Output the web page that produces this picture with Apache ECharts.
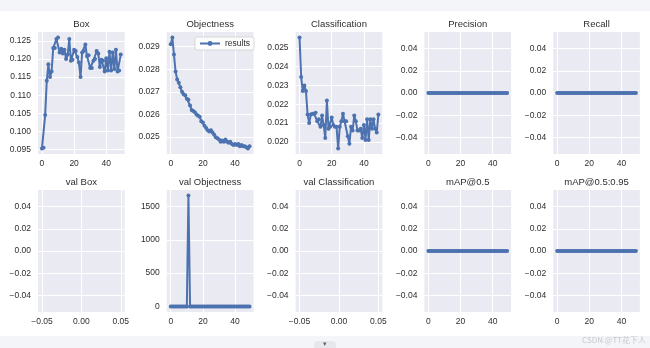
<!DOCTYPE html>
<html><head><meta charset="utf-8">
<script src="https://cdn.jsdelivr.net/npm/echarts@6/dist/echarts.min.js"></script>
<style>html,body{margin:0;padding:0;background:#f4f5f9;}#c{width:650px;height:348px;}</style>
</head><body><div id="c"></div><script>
// ---- data ----
const titles = ['Box','Objectness','Classification','Precision','Recall','val Box','val Objectness','val Classification','mAP@0.5','mAP@0.5:0.95'];
const epochs = [0,1,2,3,4,5,6,7,8,9,10,11,12,13,14,15,16,17,18,19,20,21,22,23,24,25,26,27,28,29,30,31,32,33,34,35,36,37,38,39,40,41,42,43,44,45,46,47,48,49];
const boxLoss = [0.0953,0.0955,0.1045,0.1140,0.1185,0.1150,0.1165,0.1230,0.1230,0.1255,0.1259,0.1218,0.1228,0.1215,0.1225,0.1200,0.1212,0.1255,0.1195,0.1198,0.1225,0.1222,0.1205,0.1190,0.1150,0.1218,0.1222,0.1240,0.1208,0.1210,0.1175,0.1175,0.1195,0.1200,0.1222,0.1215,0.1178,0.1198,0.1195,0.1165,0.1202,0.1168,0.1220,0.1168,0.1218,0.1172,0.1225,0.1165,0.1168,0.1212];
const objLoss = [0.02910,0.02940,0.02865,0.02790,0.02755,0.02740,0.02720,0.02700,0.02690,0.02685,0.02670,0.02665,0.02640,0.02620,0.02615,0.02610,0.02600,0.02595,0.02590,0.02570,0.02565,0.02550,0.02540,0.02530,0.02525,0.02530,0.02520,0.02510,0.02500,0.02495,0.02490,0.02480,0.02485,0.02480,0.02490,0.02480,0.02475,0.02480,0.02470,0.02465,0.02470,0.02465,0.02470,0.02460,0.02465,0.02460,0.02460,0.02455,0.02450,0.02460];
const clsLoss = [0.02555,0.02345,0.02270,0.02300,0.02270,0.02145,0.02100,0.02145,0.02150,0.02150,0.02155,0.02110,0.02120,0.02080,0.02140,0.02090,0.02020,0.02220,0.02070,0.02080,0.02130,0.02090,0.02080,0.02080,0.01965,0.02080,0.02110,0.02150,0.02110,0.02110,0.02030,0.01990,0.02080,0.02060,0.02140,0.02110,0.02060,0.02060,0.02070,0.02020,0.02090,0.02010,0.02120,0.02010,0.02120,0.02070,0.02120,0.02070,0.02050,0.02145];
const precision = [0,0,0,0,0,0,0,0,0,0,0,0,0,0,0,0,0,0,0,0,0,0,0,0,0,0,0,0,0,0,0,0,0,0,0,0,0,0,0,0,0,0,0,0,0,0,0,0,0,0];
const recall = [0,0,0,0,0,0,0,0,0,0,0,0,0,0,0,0,0,0,0,0,0,0,0,0,0,0,0,0,0,0,0,0,0,0,0,0,0,0,0,0,0,0,0,0,0,0,0,0,0,0];
const valBox = [];
const valObj = [0,0,0,0,0,0,0,0,0,0,0,1664,0,0,0,0,0,0,0,0,0,0,0,0,0,0,0,0,0,0,0,0,0,0,0,0,0,0,0,0,0,0,0,0,0,0,0,0,0,0];
const valCls = [];
const map05 = [0,0,0,0,0,0,0,0,0,0,0,0,0,0,0,0,0,0,0,0,0,0,0,0,0,0,0,0,0,0,0,0,0,0,0,0,0,0,0,0,0,0,0,0,0,0,0,0,0,0];
const map0595 = [0,0,0,0,0,0,0,0,0,0,0,0,0,0,0,0,0,0,0,0,0,0,0,0,0,0,0,0,0,0,0,0,0,0,0,0,0,0,0,0,0,0,0,0,0,0,0,0,0,0];
// tick labels
const epochTicks = [0,20,40];
const emptyTicks = [-0.05,0,0.05];
const boxTicks = [0.095,0.100,0.105,0.110,0.115,0.120,0.125];
const objTicks = [0.025,0.026,0.027,0.028,0.029];
const clsTicks = [0.020,0.021,0.022,0.023,0.024,0.025];
const zeroTicks = [-0.04,-0.02,0,0.02,0.04];
const valObjTicks = [0,500,1000,1500];

// ---- layout / config ----
const FONT = 'Liberation Sans, Arial, sans-serif';
const TXT = '#2e2e2e';
const BLUE = '#4c72b0';
const colLeft = [38, 166.8, 295.6, 424.4, 553.2];
const W = 86.7, H = 122;
const rowTop = [32, 190];

function pad(arr){ const mn=Math.min(...arr), mx=Math.max(...arr); const m=(mx-mn)*0.05; return [mn-m, mx+m]; }

const panels = [
  {y: boxLoss, yr: pad(boxLoss), yt: boxTicks, yd: 3},
  {y: objLoss, yr: pad(objLoss), yt: objTicks, yd: 3},
  {y: clsLoss, yr: pad(clsLoss), yt: clsTicks, yd: 3},
  {y: precision, yr: [-0.055,0.055], yt: zeroTicks, yd: 2},
  {y: recall, yr: [-0.055,0.055], yt: zeroTicks, yd: 2},
  {y: valBox, yr: [-0.055,0.055], yt: zeroTicks, yd: 2, empty: true},
  {y: valObj, yr: pad(valObj), yt: valObjTicks, yd: 0},
  {y: valCls, yr: [-0.055,0.055], yt: zeroTicks, yd: 2, empty: true},
  {y: map05, yr: [-0.055,0.055], yt: zeroTicks, yd: 2},
  {y: map0595, yr: [-0.055,0.055], yt: zeroTicks, yd: 2}
];

const fmt = d => v => v.toFixed(d).replace('-', '\u2212');

const grid = [], xAxis = [], yAxis = [], series = [], graphic = [];
panels.forEach((p, i) => {
  const r = Math.floor(i/5), c = i%5;
  grid.push({left: colLeft[c], top: rowTop[r], width: W, height: H, show: true, backgroundColor: '#eaeaf2', borderWidth: 0, containLabel: false});
  const xr = p.empty ? [-0.055,0.055] : pad(epochs);
  const xt = p.empty ? emptyTicks : epochTicks;
  const xd = p.empty ? 2 : 0;
  xAxis.push({type: 'value', gridIndex: i, min: xr[0], max: xr[1],
    axisLine: {show: false}, axisTick: {show: false, customValues: xt},
    axisLabel: {customValues: xt, formatter: fmt(xd), color: TXT, fontSize: 8.5, fontFamily: FONT, margin: 5, showMinLabel: true, showMaxLabel: true},
    splitLine: {show: true, lineStyle: {color: '#ffffff', width: 1}}});
  yAxis.push({type: 'value', gridIndex: i, min: p.yr[0], max: p.yr[1],
    axisLine: {show: false}, axisTick: {show: false, customValues: p.yt},
    axisLabel: {customValues: p.yt, formatter: fmt(p.yd), color: TXT, fontSize: 8.5, fontFamily: FONT, margin: 7},
    splitLine: {show: true, lineStyle: {color: '#ffffff', width: 1}}});
  if (!p.empty) {
    series.push({name: 'results', type: 'line', xAxisIndex: i, yAxisIndex: i,
      data: p.y.map((v, k) => [epochs[k], v]),
      symbol: 'circle', symbolSize: 4, showSymbol: true,
      lineStyle: {color: BLUE, width: 2}, itemStyle: {color: BLUE},
      animation: false, silent: true});
  }
  graphic.push({type: 'text', x: colLeft[c] + W/2, y: rowTop[r] - 7.5,
    style: {text: titles[i], fill: TXT, font: '9.5px ' + FONT, align: 'center', verticalAlign: 'middle'}});
});

// card background and bottom decorations
graphic.unshift({type: 'rect', x: 0, y: 11, z: -10, shape: {width: 650, height: 325}, style: {fill: '#ffffff'}});
graphic.push({type: 'rect', x: 314, y: 341, shape: {width: 22, height: 10, r: 4}, style: {fill: '#e6e8ee'}});
graphic.push({type: 'text', x: 325, y: 344, style: {text: '\u25BE', fill: '#666', font: '7px ' + FONT, align: 'center', verticalAlign: 'middle'}});
graphic.push({type: 'text', x: 646, y: 340, style: {text: 'CSDN @TT花下人', fill: '#c9c9c9', font: '8px Noto Sans CJK SC', align: 'right', verticalAlign: 'middle'}});

const chart = echarts.init(document.getElementById('c'), null, {renderer: 'canvas'});
chart.setOption({
  animation: false,
  backgroundColor: '#f4f5f9',
  grid, xAxis, yAxis, series, graphic,
  legend: {data: ['results'], left: 195, top: 37, itemWidth: 20, itemHeight: 6, itemGap: 4,
    padding: [2, 4], backgroundColor: 'rgba(255,255,255,0.85)', borderColor: '#d0d0d0', borderWidth: 0.8, borderRadius: 2,
    textStyle: {color: TXT, fontSize: 8.5, fontFamily: FONT}, selectedMode: false}
});
</script></body></html>
